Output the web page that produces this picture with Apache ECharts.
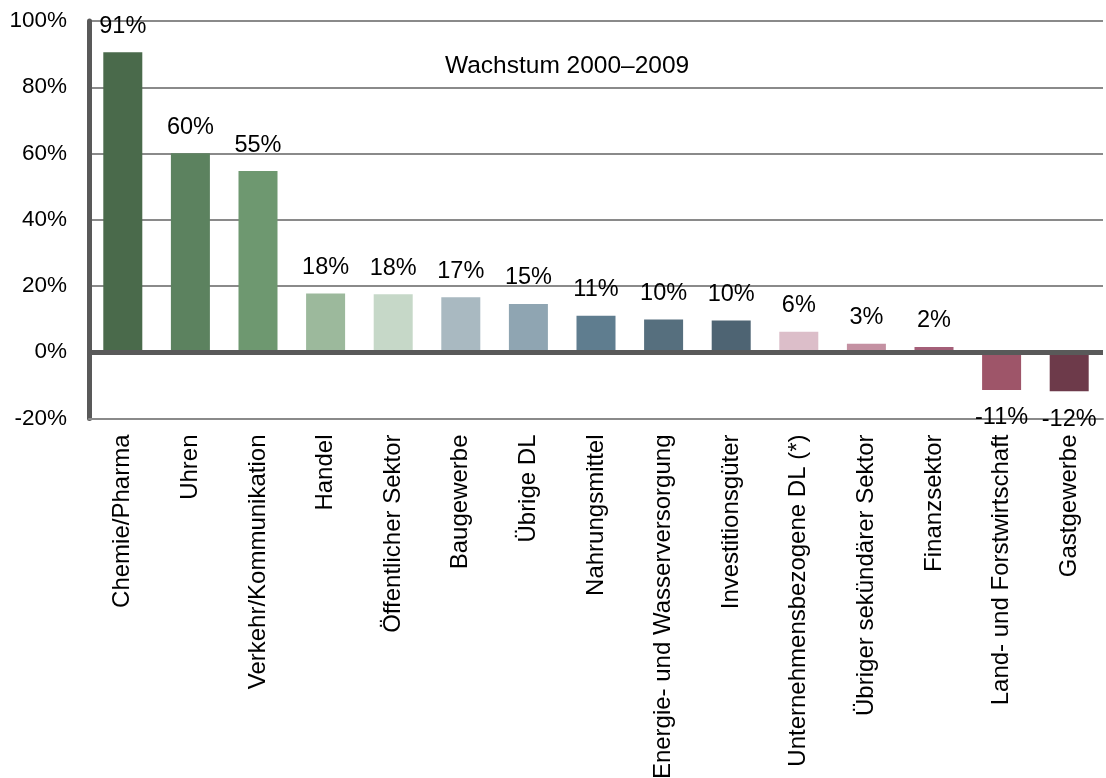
<!DOCTYPE html>
<html>
<head>
<meta charset="utf-8">
<script src="https://cdn.jsdelivr.net/npm/echarts@6/dist/echarts.min.js"></script>
<style>
  html, body { margin: 0; padding: 0; background: #fff; }
  #chart { width: 1106px; height: 778px; }
</style>
</head>
<body>
<div id="chart"></div>
<script>
// Branchen (Kategorien)
const categories = [
  'Chemie/Pharma', 'Uhren', 'Verkehr/Kommunikation', 'Handel', 'Öffentlicher Sektor',
  'Baugewerbe', 'Übrige DL', 'Nahrungsmittel', 'Energie- und Wasserversorgung', 'Investitionsgüter',
  'Unternehmensbezogene DL (*)', 'Übriger sekündärer Sektor', 'Finanzsektor',
  'Land- und Forstwirtschaft', 'Gastgewerbe'
]
// Wachstum 2000–2009 in %
const growth = [90.6, 60.1, 54.7, 17.7, 17.5, 16.6, 14.6, 11.0, 9.9, 9.6, 6.2, 2.6, 1.6, -11.4, -11.8]
// Achsenbeschriftung
const yTicks = [-20, 0, 20, 40, 60, 80, 100]
const chartTitle = 'Wachstum 2000–2009'

// Farben der Balken
const barColors = [
  '#4a6a4b', '#5c825f', '#6e9870', '#9cb99c', '#c6d8c8',
  '#a9b9c1', '#8fa5b2', '#5f7d8f', '#566f7e', '#4e6473',
  '#dcbec9', '#c491a2', '#a45f78', '#9e5569', '#6d3a4a'
]

const font = 'Liberation Sans, Arial, sans-serif'
const chart = echarts.init(document.getElementById('chart'))

const barData = growth.map((v, i) => ({
  value: v,
  itemStyle: { color: barColors[i] },
  label: { position: v < 0 ? 'bottom' : 'top', distance: v < 0 ? 16 : 14 }
}))

chart.setOption({
  animation: false,
  title: {
    text: chartTitle,
    left: 440,
    top: 49,
    textStyle: { fontFamily: font, fontSize: 24.5, fontWeight: 'normal', color: '#000' }
  },
  grid: {
    left: 89, right: 3, top: 21, bottom: 359.5,
    containLabel: false,
    outerBoundsMode: 'none'
  },
  xAxis: {
    type: 'category',
    data: categories,
    axisLine: { show: true, onZero: false, lineStyle: { color: '#8a8a8a', width: 2 } },
    axisTick: { show: false },
    axisLabel: {
      rotate: 90,
      interval: 0,
      margin: 16,
      fontFamily: font,
      fontSize: 24,
      color: '#000'
    }
  },
  yAxis: {
    type: 'value',
    min: yTicks[0],
    max: yTicks[yTicks.length - 1],
    interval: 20,
    axisLine: { show: true, lineStyle: { color: '#595959', width: 5 } },
    axisTick: { show: false },
    axisLabel: {
      formatter: '{value}%',
      margin: 22,
      fontFamily: font,
      fontSize: 22.5,
      color: '#000'
    },
    splitLine: { show: true, lineStyle: { color: '#8a8a8a', width: 2 } }
  },
  series: [{
    type: 'bar',
    data: barData,
    barWidth: 39,
    label: {
      show: true,
      fontFamily: font,
      fontSize: 23.5,
      color: '#000',
      formatter: p => Math.round(p.value) + '%'
    },
    markLine: {
      silent: true,
      symbol: 'none',
      label: { show: false },
      lineStyle: { color: '#595959', width: 5, type: 'solid' },
      data: [{ yAxis: 0 }]
    }
  }]
})
</script>
</body>
</html>
